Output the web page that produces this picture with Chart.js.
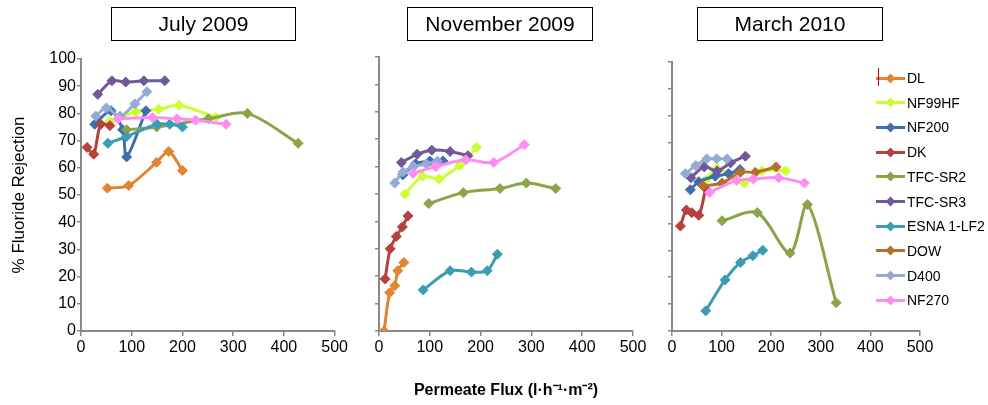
<!DOCTYPE html>
<html>
<head>
<meta charset="utf-8">
<script src="https://cdn.jsdelivr.net/npm/chart.js@4.4.1/dist/chart.umd.min.js"></script>
<style>
body { margin: 0; background: #fff; width: 988px; height: 405px; position: relative; overflow: hidden;
       font-family: "Liberation Sans", Arial, sans-serif; }
canvas { position: absolute; top: 0; }
.ttl { position: absolute; border: 1px solid #000; text-align: center; font-size: 21px;
       height: 32px; line-height: 32px; color: #000; }
.li { position: absolute; left: 876px; height: 20px; font-size: 14px; line-height: 20px; color: #000; }
.li .ln { position: absolute; left: 0; top: 8.5px; width: 29px; height: 3px; }
.li .dm { position: absolute; left: 11px; top: 6.5px; width: 7px; height: 7px; transform: rotate(45deg); }
.li .tx { position: absolute; left: 31px; top: 0; white-space: nowrap; }
</style>
</head>
<body>
<canvas id="c1" width="350" height="405" style="left:0"></canvas>
<canvas id="c2" width="300" height="405" style="left:350px"></canvas>
<canvas id="c3" width="338" height="405" style="left:650px"></canvas>

<div class="ttl" style="left:111px;top:7px;width:183px">July 2009</div>
<div class="ttl" style="left:407px;top:7px;width:184px">November 2009</div>
<div class="ttl" style="left:697px;top:7px;width:184px">March 2010</div>
<div id="legend"></div>

<script>
// -- data ------------------------------------------------------------------->
const seriesNames = ['DL', 'NF99HF', 'NF200', 'DK', 'TFC-SR2', 'TFC-SR3', 'ESNA 1-LF2', 'DOW', 'D400', 'NF270'];
const seriesColors = ['#E38432', '#CCFF33', '#3D6EB0', '#B5413F', '#8BA446', '#71589B', '#3B9DB3', '#B5702A', '#95ABD5', '#FF8CF2'];

// July 2009  [flux, % rejection]
const julDL      = [[52, 52.5], [94, 53.5], [149, 62], [173, 66], [200, 59]];
const julNF99HF  = [[57, 77], [108, 80.5], [153, 81.5], [193, 83], [266, 78.5]];
const julNF200   = [[27, 76], [59, 81], [82, 74], [90, 64], [128, 81]];
const julDK      = [[12, 67.5], [25, 65], [39, 76], [57, 75.5]];
const julTFCSR2  = [[90, 74], [149, 75], [251, 78], [328, 80], [428, 69]];
const julTFCSR3  = [[33, 87], [61, 92], [88, 91.5], [124, 92], [165, 92]];
const julESNA    = [[53, 69], [90, 71.5], [150, 76], [175, 76], [200, 75]];
const julDOW     = [];
const julD400    = [[29, 79], [50, 82], [77, 79], [106, 83.5], [130, 88]];
const julNF270   = [[73, 78], [141, 78.5], [189, 78], [226, 77.5], [286, 76]];

// November 2009
const novDL      = [[10, 0], [21, 14], [31, 16.5], [37, 22], [49, 25]];
const novNF99HF  = [[51, 50], [86, 56.5], [118, 55.5], [159, 60.5], [192, 67]];
const novNF200   = [[47, 57], [72, 61], [100, 62], [126, 62]];
const novDK      = [[12, 19], [22, 30], [34, 34.5], [46, 38], [57, 42]];
const novTFCSR2  = [[98, 46.5], [166, 50.5], [238, 52], [290, 54], [348, 52]];
const novTFCSR3  = [[44, 61.5], [75, 64.5], [104, 66], [140, 65.5], [175, 64]];
const novESNA    = [[87, 15], [140, 22], [182, 21.5], [213, 22], [233, 28]];
const novDOW     = [];
const novD400    = [[31, 54], [47, 58], [68, 60], [93, 61], [115, 62]];
const novNF270   = [[67, 57.5], [112, 60], [171, 62.5], [226, 61.5], [286, 68]];

// March 2010
const marDL      = [];
const marNF99HF  = [[68, 56], [91, 60.5], [145, 55], [181, 59.5], [229, 59.5]];
const marNF200   = [[37, 52.5], [54, 55.5], [87, 57.5], [114, 58.5], [137, 60]];
const marDK      = [[17, 39], [29, 45], [40, 44], [54, 43], [68, 53]];
const marTFCSR2  = [[101, 41], [172, 44], [238, 29], [273, 47], [331, 10.5]];
const marTFCSR3  = [[38, 57], [65, 61], [91, 59.5], [118, 62.5], [148, 65]];
const marESNA    = [[68, 7.5], [107, 19], [138, 25.5], [163, 28], [183, 30]];
const marDOW     = [[62, 54], [101, 55], [138, 59], [168, 59], [210, 61]];
const marD400    = [[27, 58.5], [48, 61.5], [70, 64], [90, 64], [111, 64]];
const marNF270   = [[76, 51.5], [130, 56], [164, 56.5], [215, 57], [267, 55]];

const xTicks = [0, 100, 200, 300, 400, 500];
const yTicks = [0, 10, 20, 30, 40, 50, 60, 70, 80, 90, 100];

const julAll = [julDL, julNF99HF, julNF200, julDK, julTFCSR2, julTFCSR3, julESNA, julDOW, julD400, julNF270];
const novAll = [novDL, novNF99HF, novNF200, novDK, novTFCSR2, novTFCSR3, novESNA, novDOW, novD400, novNF270];
const marAll = [marDL, marNF99HF, marNF200, marDK, marTFCSR2, marTFCSR3, marESNA, marDOW, marD400, marNF270];

// -- charts ----------------------------------------------------------------->
const axisGrey = '#898989';
const tickFont = { family: '"Liberation Sans", Arial, sans-serif', size: 16 };

function panel(id, series, o) {
    const datasets = series.map((pts, i) => ({
        label: seriesNames[i],
        data: pts.map(p => ({ x: p[0], y: p[1] })),
        borderColor: seriesColors[i],
        backgroundColor: seriesColors[i],
        pointBackgroundColor: seriesColors[i],
        pointBorderColor: seriesColors[i],
        borderWidth: 3,
        pointStyle: 'rectRot',
        pointRadius: 5,
        pointBorderWidth: 1,
        tension: 0.3,
        order: -i   // later series drawn on top, as in the original
    }));
    return new Chart(document.getElementById(id), {
        type: 'line',
        data: { datasets },
        options: {
            responsive: false,
            devicePixelRatio: 1,
            animation: false,
            layout: { padding: { top: o.top, right: o.right, left: 0, bottom: 0 } },
            plugins: { legend: { display: false }, tooltip: { enabled: false } },
            scales: {
                x: {
                    type: 'linear', min: 0, max: 500,
                    afterBuildTicks: s => { s.ticks = xTicks.map(v => ({ value: v })); },
                    afterFit: s => { s.height = 74; },
                    ticks: { color: '#000', font: tickFont, padding: 2, maxRotation: 0 },
                    grid: { display: true, drawOnChartArea: false, drawTicks: true, tickLength: 5, color: axisGrey, lineWidth: 1.5 },
                    border: { display: true, color: axisGrey, width: 2 },
                    title: o.xTitle ? {
                        display: true, text: o.xTitle, color: '#000', padding: 5,
                        font: { family: '"Liberation Sans", Arial, sans-serif', size: 16, weight: 'bold' }
                    } : { display: false }
                },
                y: {
                    min: 0, max: 100,
                    afterBuildTicks: s => { s.ticks = yTicks.map(v => ({ value: v })); },
                    afterFit: s => { s.width = o.yWidth; },
                    ticks: { color: '#000', font: tickFont, padding: 1, callback: v => o.yLabels ? v : '' },
                    grid: { display: true, drawOnChartArea: false, drawTicks: true, tickLength: 4, color: axisGrey, lineWidth: 1.5 },
                    border: { display: true, color: axisGrey, width: 2 },
                    title: o.yTitle ? {
                        display: true, text: o.yTitle, color: '#000', padding: 9,
                        font: { family: '"Liberation Sans", Arial, sans-serif', size: 17 }
                    } : { display: false }
                }
            }
        }
    });
}

panel('c1', julAll, { top: 59, right: 14, yWidth: 81, yLabels: true, yTitle: '% Fluoride Rejection' });
panel('c2', novAll, { top: 57, right: 17, yWidth: 29, yLabels: false, xTitle: 'Permeate Flux (l·h⁻¹·m⁻²)' });
panel('c3', marAll, { top: 62, right: 68, yWidth: 22, yLabels: false });

// -- legend ----------------------------------------------------------------->
const legend = document.getElementById('legend');
seriesNames.forEach((name, i) => {
    const item = document.createElement('div');
    item.className = 'li';
    item.style.top = (68 + i * 24.7) + 'px';
    item.innerHTML = '<div class="ln" style="background:' + seriesColors[i] + '"></div>' +
        '<div class="dm" style="background:' + seriesColors[i] + '"></div>' +
        '<div class="tx">' + name + '</div>';
    legend.appendChild(item);
});
const mark = document.createElement('div');
mark.style.cssText = 'position:absolute;left:878px;top:68px;width:1px;height:18px;background:#C00000';
legend.appendChild(mark);
</script>
</body>
</html>
